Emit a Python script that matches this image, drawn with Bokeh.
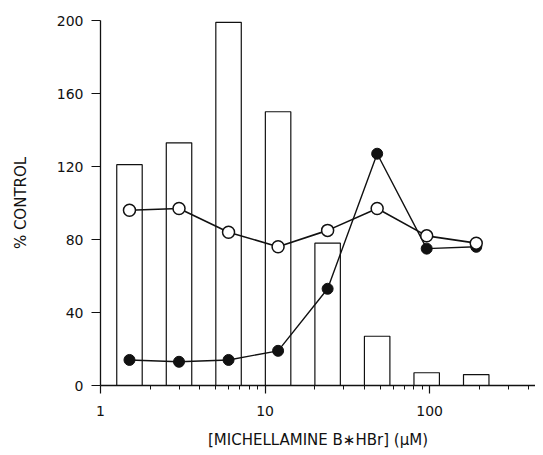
from bokeh.plotting import figure
from bokeh.models import FixedTicker, Range1d
from bokeh.embed import file_html
from bokeh.resources import INLINE

# data
conc = [1.5, 3, 6, 12, 24, 48, 96, 192]                 # µM
bar_values = [121, 133, 199, 150, 78, 27, 7, 6]          # % control (bars)
open_values = [96, 97, 84, 76, 85, 97, 82, 78]           # open circles
filled_values = [14, 13, 14, 19, 53, 127, 75, 76]        # filled circles

y_ticks = [0, 40, 80, 120, 160, 200]
x_ticks = [1, 10, 100]
x_minor = [2, 3, 4, 5, 6, 7, 8, 9, 20, 30, 40, 50, 60, 70, 80, 90, 200, 300, 400]
x_labels = {1: "1", 10: "10", 100: "100"}

bar_half = 1.195  # half-width of each bar as a multiplicative factor on the log axis
bar_left = [c / bar_half for c in conc]
bar_right = [c * bar_half for c in conc]

FONT = "DejaVu Sans"
INK = "#111111"

p = figure(width=535, height=455, x_axis_type="log",
           x_range=Range1d(1, 440), y_range=Range1d(0, 200),
           output_backend="svg", toolbar_location=None,
           min_border_left=100, min_border_right=0,
           min_border_top=20, min_border_bottom=70)
p.outline_line_color = None
p.xgrid.visible = False
p.ygrid.visible = False
p.background_fill_color = "white"

p.quad(left=bar_left, right=bar_right, bottom=0, top=bar_values,
       fill_color="white", line_color=INK, line_width=1.2)

p.line(conc, open_values, line_color=INK, line_width=1.6)
p.line(conc, filled_values, line_color=INK, line_width=1.4)
p.scatter(conc, filled_values, size=11, marker="circle",
          fill_color=INK, line_color=INK, line_width=1)
p.scatter(conc, open_values, size=12, marker="circle",
          fill_color="white", line_color=INK, line_width=1.5)

xa = p.xaxis[0]
xa.ticker = FixedTicker(ticks=x_ticks, minor_ticks=x_minor)
xa.major_label_overrides = x_labels
xa.axis_label = "[MICHELLAMINE B\u2217HBr] (\u03bcM)"
xa.major_tick_in = 0
xa.major_tick_out = 8
xa.minor_tick_in = 0
xa.minor_tick_out = 4
xa.major_label_standoff = 12
xa.axis_label_standoff = 12

ya = p.yaxis[0]
ya.ticker = FixedTicker(ticks=y_ticks)
ya.axis_label = "% CONTROL"
ya.major_tick_in = 0
ya.major_tick_out = 9
ya.minor_tick_out = 0
ya.minor_tick_in = 0
ya.major_label_standoff = 8
ya.axis_label_standoff = 24
ya.major_label_orientation = "horizontal"

for ax in (xa, ya):
    ax.axis_line_color = INK
    ax.axis_line_width = 1.3
    ax.major_tick_line_color = INK
    ax.minor_tick_line_color = INK
    ax.major_tick_line_width = 1.2
    ax.major_label_text_font = FONT
    ax.major_label_text_font_size = "14px"
    ax.major_label_text_color = INK
    ax.axis_label_text_font = FONT
    ax.axis_label_text_font_size = "15px"
    ax.axis_label_text_font_style = "normal"
    ax.axis_label_text_color = INK

open("out.html", "w").write(file_html(p, INLINE))
